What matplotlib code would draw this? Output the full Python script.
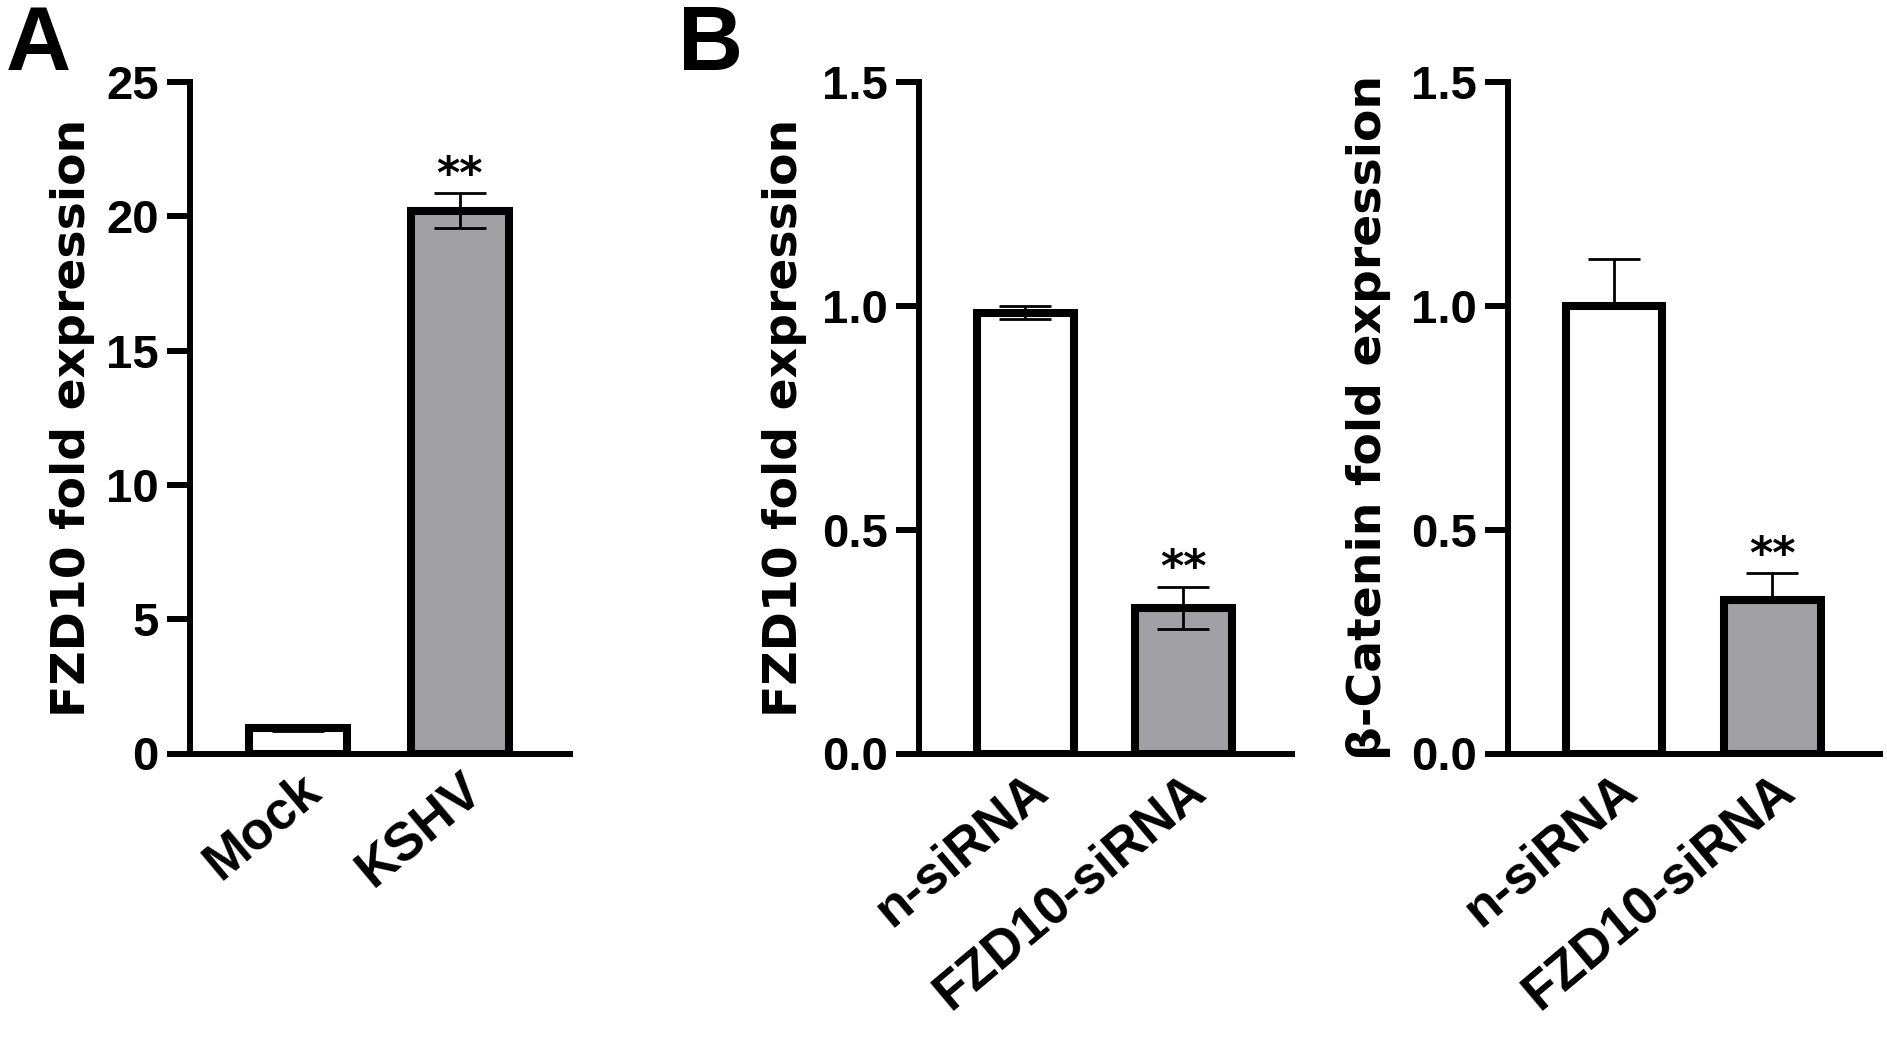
import numpy as np
import matplotlib
matplotlib.use("Agg")
import matplotlib.pyplot as plt
from matplotlib.transforms import ScaledTranslation

# data
a_groups = ["Mock", "KSHV"]
a_means = [0.95, 20.2]
a_errs = [0.12, 0.65]

b_groups = ["n-siRNA", "FZD10-siRNA"]
b1_means = [0.985, 0.325]
b1_errs = [0.015, 0.047]
b2_means = [1.0, 0.343]
b2_errs = [0.105, 0.06]

stars = ["", "**"]
colors = ["white", "#a1a1a5"]

narrow = ["Liberation Sans Narrow", "Liberation Sans", "DejaVu Sans"]
regular = ["Liberation Sans", "DejaVu Sans"]

W, H = 1887, 1043
fig = plt.figure(figsize=(W / 100, H / 100), dpi=100)

def px_axes(left, right, top=82, bottom=753.5):
    return fig.add_axes([left / W, 1 - bottom / H, (right - left) / W, (bottom - top) / H])

def panel(ax, means, errs, groups, ylim, yticks, fmt, ylabel, two_sided, xlim, lab_x):
    x = np.arange(len(means))
    ax.bar(x, means, width=0.61, color=colors, edgecolor="black", linewidth=5.8, zorder=2)
    if two_sided:
        yerr = errs
    else:
        yerr = [np.zeros(len(errs)), errs]
    ax.errorbar(x, means, yerr=yerr, fmt="none", ecolor="black", elinewidth=2,
                capsize=19, capthick=2, zorder=3)
    for xi, m, e, s in zip(x, means, errs, stars):
        if s:
            ax.annotate(s, xy=(xi, m + e), xytext=(0, 4), textcoords="offset points",
                        ha="center", va="baseline", fontsize=32, fontweight="bold",
                        family="DejaVu Sans")
    ax.set_xlim(*xlim)
    ax.set_ylim(*ylim)
    ax.set_yticks(yticks)
    ax.set_yticklabels([fmt.format(t) for t in yticks], family=narrow,
                       fontweight="bold", fontsize=34)
    ax.set_xticks(x)
    ax.set_xticklabels(groups, rotation=40, ha="right", va="top",
                       rotation_mode="anchor", family=regular, fontweight="bold",
                       fontsize=38)
    shift = ScaledTranslation(14 / 100, 0, fig.dpi_scale_trans)
    for lab in ax.get_xticklabels():
        lab.set_transform(lab.get_transform() + shift)
    ax.tick_params(axis="x", length=0, pad=8)
    ax.tick_params(axis="y", length=16.5, width=4.3, pad=6)
    for sp in ["top", "right"]:
        ax.spines[sp].set_visible(False)
    for sp in ["left", "bottom"]:
        ax.spines[sp].set_linewidth(4.3)
        ax.spines[sp].set_capstyle("projecting")
    ax.set_ylabel(ylabel, family="DejaVu Sans", fontweight="bold", fontsize=34)
    ax.yaxis.set_label_coords(lab_x, 0.5)
    ax.patch.set_visible(False)

axA = px_axes(190, 570)
panel(axA, a_means, a_errs, a_groups, (0, 25), [0, 5, 10, 15, 20, 25], "{:g}",
      "FZD10 fold expression", True, (-0.667, 1.68), -0.25)

axB1 = px_axes(919, 1292)
panel(axB1, b1_means, b1_errs, b_groups, (0, 1.5), [0, 0.5, 1.0, 1.5], "{:.1f}",
      "FZD10 fold expression", True, (-0.674, 1.687), -0.30)

axB2 = px_axes(1508, 1880)
panel(axB2, b2_means, b2_errs, b_groups, (0, 1.5), [0, 0.5, 1.0, 1.5], "{:.1f}",
      "β-Catenin fold expression", False, (-0.67, 1.68), -0.315)

fig.text(6 / W, 1 - 70 / H, "A", family=narrow, fontweight="bold", fontsize=65,
         ha="left", va="baseline")
fig.text(678 / W, 1 - 70 / H, "B", family=narrow, fontweight="bold", fontsize=65,
         ha="left", va="baseline")

fig.savefig("out.png", dpi=100)
